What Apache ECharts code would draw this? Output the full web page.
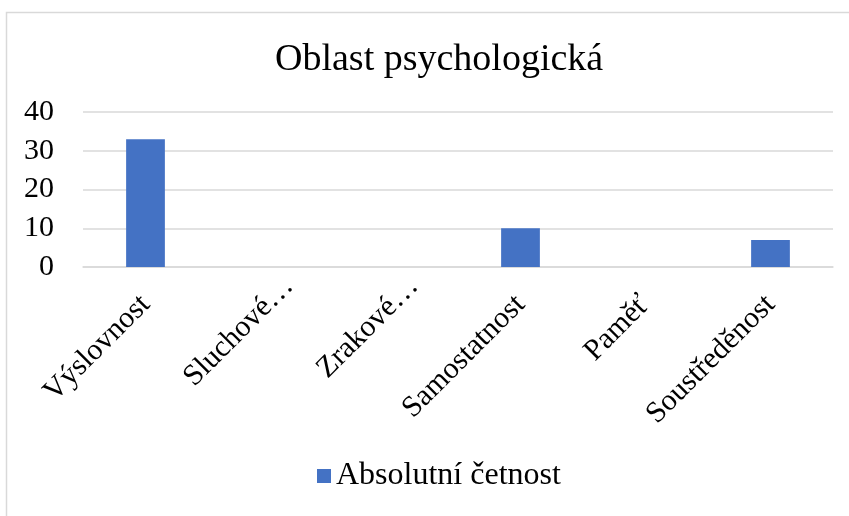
<!DOCTYPE html>
<html>
<head>
<meta charset="utf-8">
<script src="https://cdn.jsdelivr.net/npm/echarts@6/dist/echarts.min.js"></script>
<style>
  html, body { margin: 0; padding: 0; background: #fff; }
  #chart { width: 849px; height: 516px; }
</style>
</head>
<body>
<div id="chart"></div>
<script>
// Psychological area – absolute frequencies per category
const categories = ['Výslovnost', 'Sluchové…', 'Zrakové…', 'Samostatnost', 'Paměť', 'Soustředěnost'];
const absoluteCounts = [33, 0, 0, 10, 0, 7];
const yTicks = { min: 0, max: 40, interval: 10 };
const seriesName = 'Absolutní četnost';
const titleText = 'Oblast psychologická';

const font = 'Liberation Serif, Times New Roman, serif';
const chart = echarts.init(document.getElementById('chart'));

// truncated names sit a little further along their slant
const categoryItems = categories.map(name => (
  name.endsWith('…')
    ? { value: name, textStyle: { padding: [0, -26, 8, 0] } }
    : name
));

chart.setOption({
  animation: false,
  backgroundColor: '#fff',
  graphic: [{
    type: 'rect',
    shape: { x: 6.5, y: 12.5, width: 860, height: 520 },
    style: { fill: 'none', stroke: '#d9d9d9', lineWidth: 1.5 },
    silent: true
  }],
  title: {
    text: titleText,
    left: 270,
    top: 36,
    textStyle: { fontFamily: font, fontSize: 38, fontWeight: 'normal', color: '#000' }
  },
  legend: {
    bottom: 19,
    left: 312,
    itemWidth: 14,
    itemHeight: 14,
    itemGap: 10,
    icon: 'rect',
    textStyle: { fontFamily: font, fontSize: 32, color: '#000' },
    data: [seriesName]
  },
  grid: { left: 83, right: 16, top: 112, height: 155, containLabel: false },
  xAxis: {
    type: 'category',
    data: categoryItems,
    axisLine: { lineStyle: { color: '#d9d9d9', width: 1.5 } },
    axisTick: { show: false },
    axisLabel: {
      rotate: 45,
      interval: 0,
      margin: 33,
      fontFamily: font,
      fontSize: 30,
      color: '#000'
    }
  },
  yAxis: {
    type: 'value',
    min: yTicks.min,
    max: yTicks.max,
    interval: yTicks.interval,
    axisLine: { show: false },
    axisTick: { show: false },
    splitLine: { lineStyle: { color: '#d9d9d9', width: 1.5 } },
    axisLabel: { fontFamily: font, fontSize: 30, color: '#000', margin: 29 }
  },
  series: [{
    name: seriesName,
    type: 'bar',
    data: absoluteCounts,
    barWidth: '31%',
    itemStyle: { color: '#4472c4' }
  }]
});
</script>
</body>
</html>
